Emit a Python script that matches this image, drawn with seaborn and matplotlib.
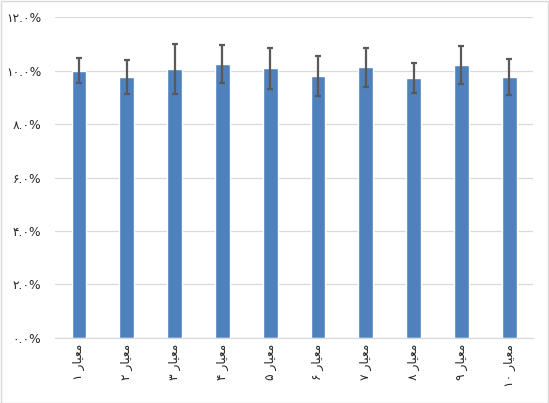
import matplotlib
matplotlib.use("Agg")
import matplotlib.pyplot as plt
import seaborn as sns
import pandas as pd
from matplotlib.patches import Rectangle

# visual (pre-shaped, left-to-right) forms of "معیار N"
word = "\ufead\ufe8e\ufbff\ufecc\ufee3"
digits = ["۱", "۲", "۳", "۴", "۵", "۶", "۷", "۸", "۹", "۱۰"]
categories = [d + " " + word for d in digits]
values = [10.0, 9.76, 10.06, 10.24, 10.09, 9.79, 10.13, 9.72, 10.21, 9.76]
errors = [0.47, 0.62, 0.94, 0.71, 0.77, 0.75, 0.73, 0.55, 0.71, 0.67]
y_ticks = [0, 2, 4, 6, 8, 10, 12]
y_tick_labels = ["۰.۰%", "۲.۰%", "۴.۰%", "۶.۰%", "۸.۰%", "۱۰.۰%", "۱۲.۰%"]

sns.set_style("white")
plt.rcParams["font.family"] = ["DejaVu Sans"]

df = pd.DataFrame({"cat": categories, "val": values})

fig = plt.figure(figsize=(5.49, 4.03), dpi=100)
ax = fig.add_axes([0.1002, 0.1613, 0.8708, 0.7965])

sns.barplot(data=df, x="cat", y="val", color="#4f81bd", width=0.31,
            saturation=1, errorbar=None, ax=ax)
ax.errorbar(range(len(values)), values, yerr=errors, fmt="none",
            ecolor="#595959", elinewidth=1.6, capsize=2.3, capthick=1.6)

ax.set_ylim(0, 12)
ax.set_xlim(-0.5, len(values) - 0.5)
ax.set_yticks(y_ticks)
ax.set_yticklabels(y_tick_labels, fontsize=8.8, color="#262626")
ax.set_xticks(range(len(categories)))
ax.set_xticklabels(categories, rotation=90, fontsize=8.8, color="#262626")
ax.tick_params(axis="y", length=0, pad=10)
ax.tick_params(axis="x", length=0, pad=4)
ax.set_xlabel("")
ax.set_ylabel("")
ax.yaxis.grid(True, color="#d9d9d9", linewidth=0.9)
ax.set_axisbelow(True)
for s in ["left", "right", "top"]:
    ax.spines[s].set_visible(False)
ax.spines["bottom"].set_color("#d9d9d9")
ax.spines["bottom"].set_linewidth(0.9)

fig.patches.append(Rectangle((0.001, 0.001), 0.997, 0.997, transform=fig.transFigure,
                             fill=False, edgecolor="#d9d9d9", linewidth=1))

fig.savefig("out.png", dpi=100)
